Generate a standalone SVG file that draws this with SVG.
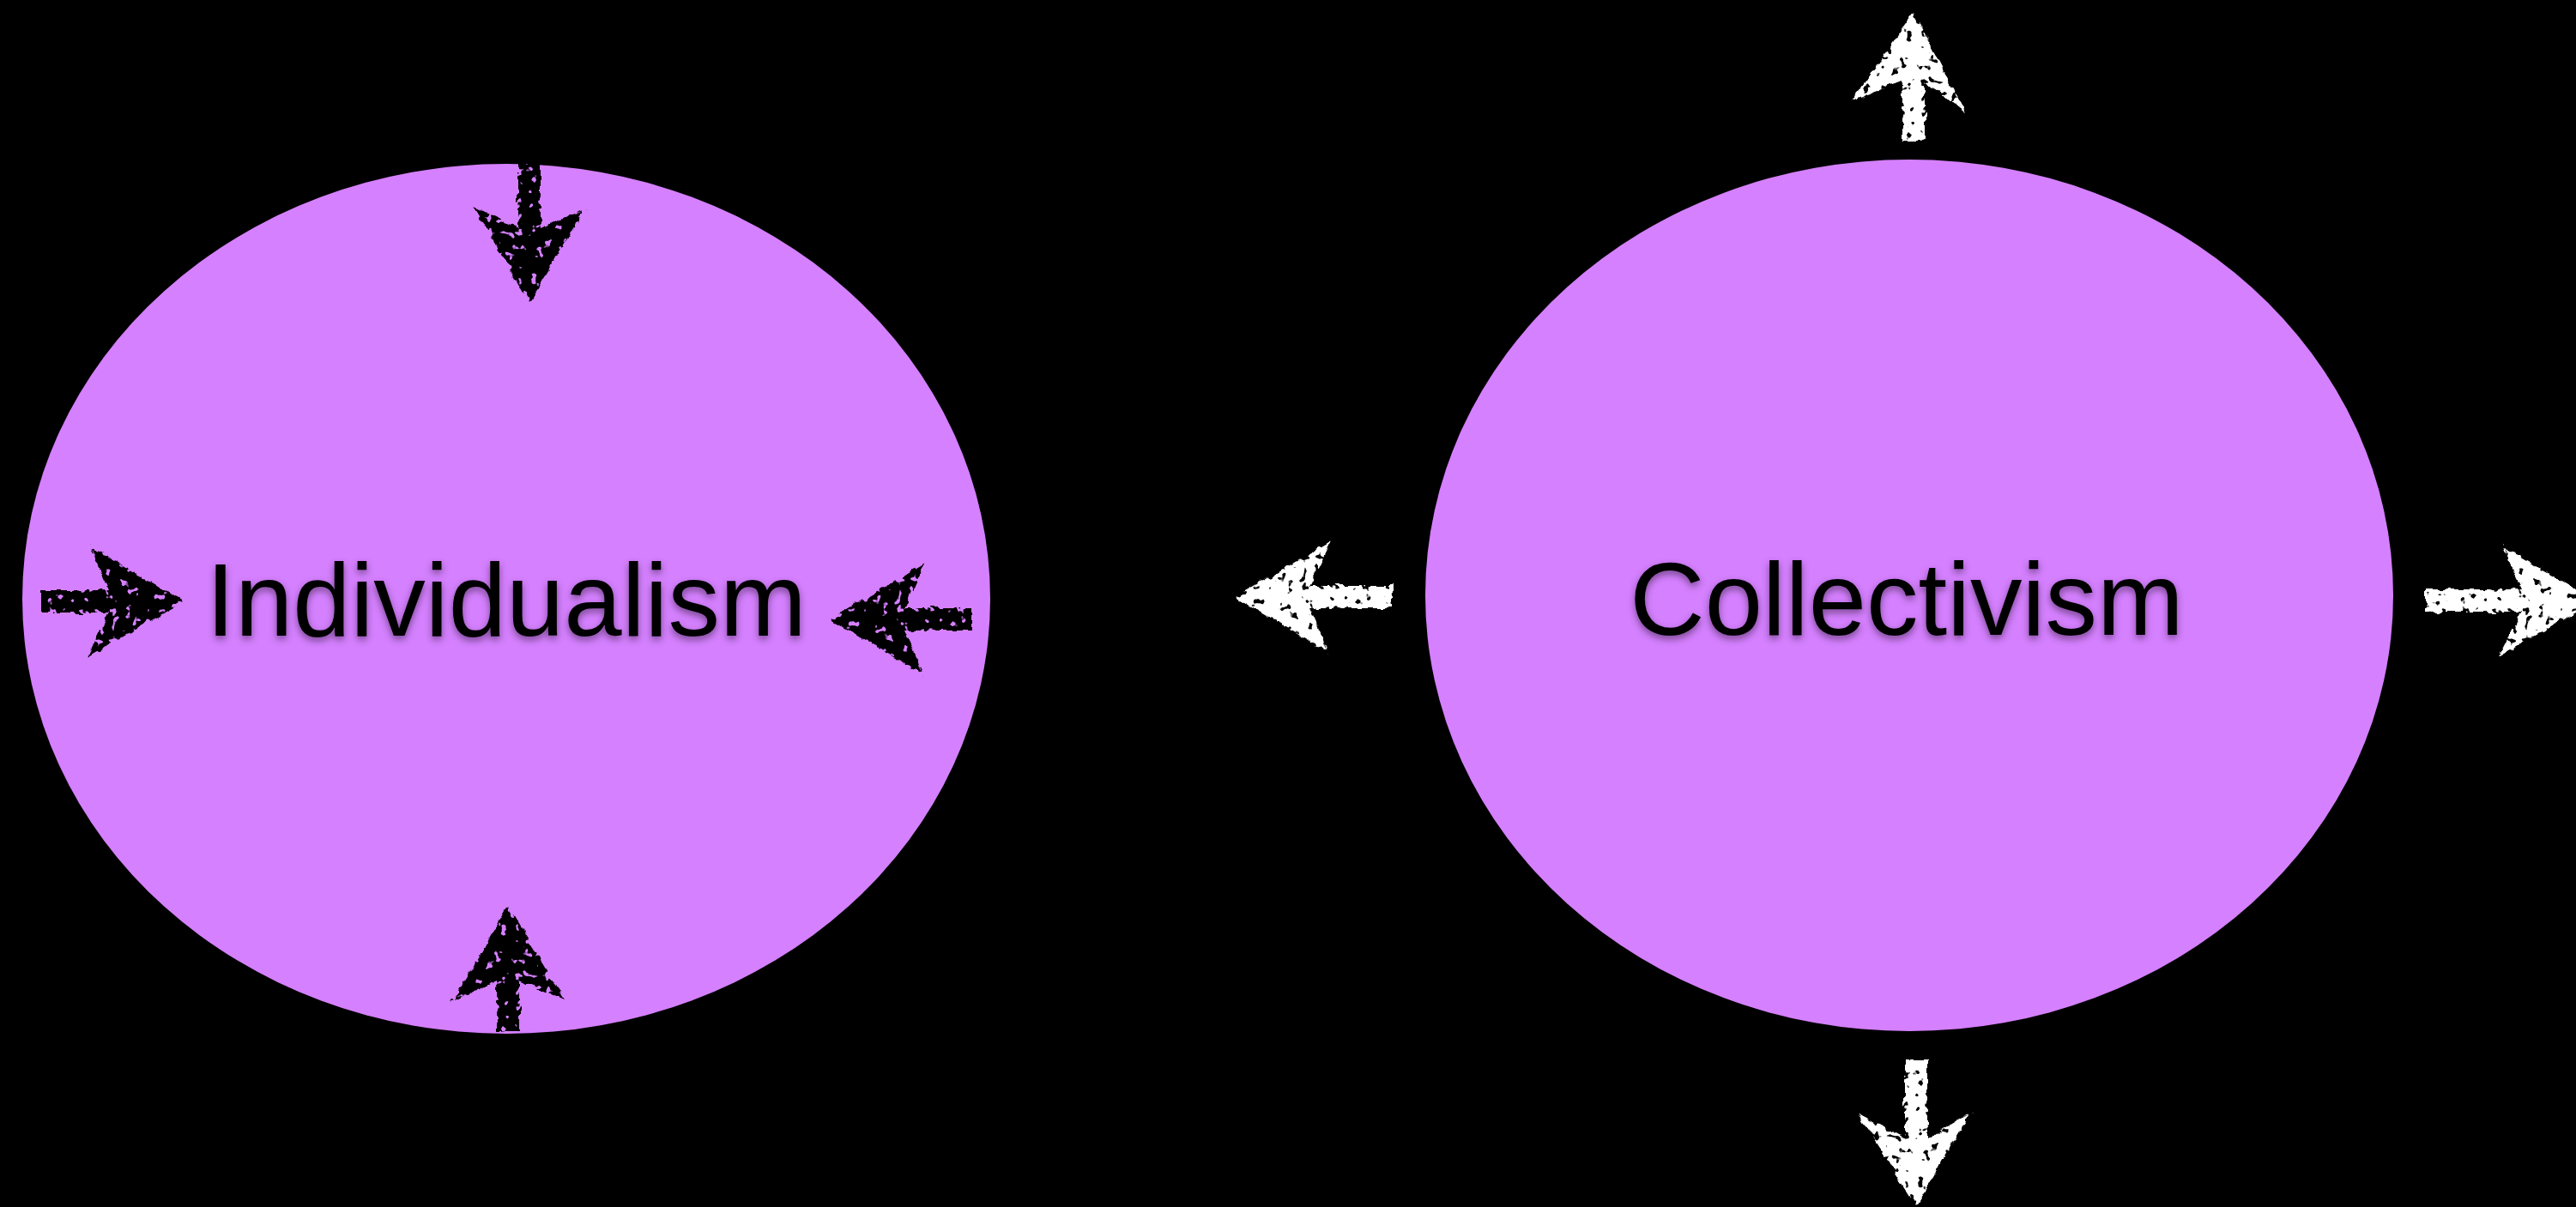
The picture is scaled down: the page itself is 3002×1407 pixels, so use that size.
<svg xmlns="http://www.w3.org/2000/svg" width="3002" height="1407" viewBox="0 0 3002 1407">
  <style>
    .node { fill: #d580ff; }
    .label { font-family: "Liberation Sans", Arial, Helvetica, sans-serif; font-size: 121px; fill: #000; text-anchor: middle; filter: url(#shadow); }
    .arrow-dark { fill: #000; filter: url(#chalk); }
    .arrow-light { fill: #fff; filter: url(#chalk); }
  </style>
  <defs>
    <filter id="shadow" x="-10%" y="-30%" width="120%" height="160%">
      <feDropShadow dx="0" dy="4" stdDeviation="4" flood-color="#000" flood-opacity="0.45"/>
    </filter>
    <filter id="chalk" x="-25%" y="-25%" width="150%" height="150%">
      <feTurbulence type="fractalNoise" baseFrequency="0.08" numOctaves="2" seed="3" result="n"/>
      <feDisplacementMap in="SourceGraphic" in2="n" scale="9" xChannelSelector="R" yChannelSelector="G" result="d"/>
      <feTurbulence type="fractalNoise" baseFrequency="0.12" numOctaves="2" seed="11" result="n2"/>
      <feColorMatrix in="n2" type="matrix" values="0 0 0 0 0  0 0 0 0 0  0 0 0 0 0  -14 0 0 0 9.8" result="holes"/>
      <feComposite in="d" in2="holes" operator="in"/>
    </filter>
  </defs>
  <rect x="0" y="0" width="3002" height="1407" fill="#000"/>

  <g id="individualism">
    <ellipse class="node" cx="590" cy="698" rx="564" ry="507"/>
    <text class="label" x="590" y="741">Individualism</text>
  </g>

  <g id="collectivism">
    <ellipse class="node" cx="2225" cy="694" rx="564" ry="508"/>
    <text class="label" x="2222" y="740">Collectivism</text>
  </g>

  <g id="arrows">
    <!-- inward black arrows -->
    <path class="arrow-dark" transform="translate(213,701)" d="M0,0 L-110,-66 L-86,-13 L-166,-13 L-166,13 L-86,13 L-112,66 Z"/>
    <path class="arrow-dark" transform="translate(968,722) rotate(180)" d="M0,0 L-110,-66 L-86,-13 L-165,-13 L-165,13 L-86,13 L-110,66 Z"/>
    <path class="arrow-dark" transform="translate(617,352) rotate(90)" d="M0,0 L-110,-66 L-86,-13 L-160,-13 L-160,13 L-86,13 L-112,66 Z"/>
    <path class="arrow-dark" transform="translate(592,1057) rotate(-90)" d="M0,0 L-112,-66 L-86,-13 L-146,-13 L-146,13 L-86,13 L-108,66 Z"/>
    <!-- outward white arrows -->
    <path class="arrow-light" transform="translate(1440,696) rotate(180)" d="M0,0 L-110,-66 L-86,-13 L-183,-13 L-183,13 L-86,13 L-112,66 Z"/>
    <path class="arrow-light" transform="translate(3025,700)" d="M0,0 L-110,-64 L-86,-13 L-198,-13 L-198,13 L-86,13 L-114,66 Z"/>
    <path class="arrow-light" transform="translate(2230,15) rotate(-90)" d="M0,0 L-102,-72 L-80,-13 L-150,-13 L-150,13 L-80,13 L-115,60 Z"/>
    <path class="arrow-light" transform="translate(2233,1405) rotate(90)" d="M0,0 L-110,-65 L-78,-13 L-170,-13 L-170,13 L-78,13 L-107,68 Z"/>
  </g>
</svg>
